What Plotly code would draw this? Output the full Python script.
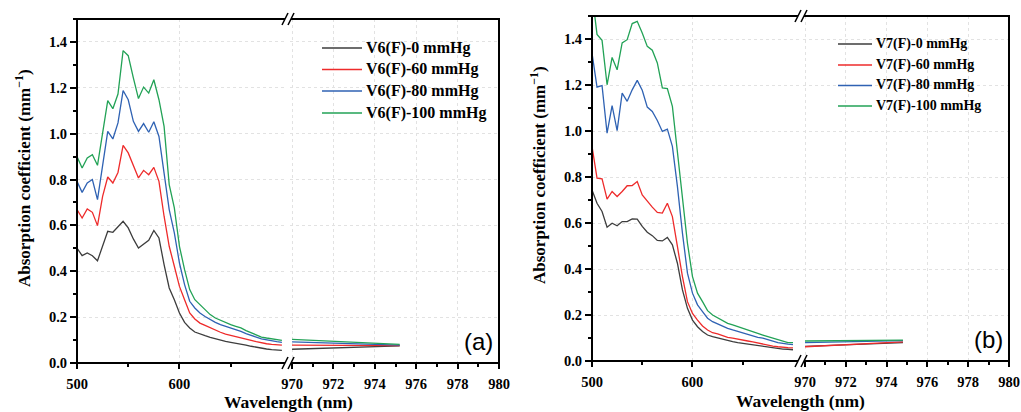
import plotly.graph_objects as go

W, H = 1021, 412

# --- data ---
wavelength = [500, 505, 510, 515, 520, 525, 530, 535, 540, 545, 550, 555, 560, 565, 570,
              575, 580, 585, 590, 595, 600, 605, 610, 615, 620, 625, 630, 635, 640, 645,
              650, 655, 660, 665, 670, 675, 680, 685, 690, 695, 700]
nir_a = [970, 975.2]
nir_b = [970, 974.8]

labels_a = ['V6(F)-0 mmHg', 'V6(F)-60 mmHg', 'V6(F)-80 mmHg', 'V6(F)-100 mmHg']
labels_b = ['V7(F)-0 mmHg', 'V7(F)-60 mmHg', 'V7(F)-80 mmHg', 'V7(F)-100 mmHg']

v6_0 = [0.501, 0.468, 0.48, 0.468, 0.446, 0.509, 0.574, 0.57, 0.593, 0.618, 0.589, 0.541, 0.501,
        0.52, 0.535, 0.578, 0.545, 0.429, 0.327, 0.276, 0.218, 0.177, 0.153, 0.135, 0.126, 0.119,
        0.112, 0.105, 0.099, 0.094, 0.09, 0.087, 0.084, 0.078, 0.073, 0.068, 0.064, 0.061, 0.058,
        0.057, 0.055]
v6_60 = [0.669, 0.632, 0.672, 0.657, 0.599, 0.727, 0.811, 0.785, 0.831, 0.949, 0.916, 0.858, 0.807,
         0.84, 0.821, 0.853, 0.792, 0.64, 0.509, 0.422, 0.334, 0.276, 0.218, 0.192, 0.174, 0.164,
         0.153, 0.142, 0.134, 0.126, 0.121, 0.116, 0.112, 0.105, 0.099, 0.093, 0.087, 0.084, 0.081,
         0.08, 0.078]
v6_80 = [0.792, 0.744, 0.785, 0.80, 0.712, 0.872, 1.01, 0.977, 1.047, 1.188, 1.148, 1.054, 1.01,
         1.044, 1.006, 1.052, 0.988, 0.828, 0.669, 0.567, 0.436, 0.342, 0.269, 0.24, 0.218, 0.203,
         0.189, 0.177, 0.167, 0.16, 0.153, 0.145, 0.138, 0.128, 0.119, 0.113, 0.105, 0.10, 0.096,
         0.093, 0.09]
v6_100 = [0.90, 0.85, 0.894, 0.908, 0.862, 1.003, 1.144, 1.109, 1.173, 1.362, 1.34, 1.243, 1.153,
          1.203, 1.177, 1.235, 1.148, 1.032, 0.778, 0.676, 0.509, 0.407, 0.32, 0.276, 0.254, 0.233,
          0.211, 0.196, 0.186, 0.177, 0.167, 0.16, 0.153, 0.141, 0.131, 0.124, 0.113, 0.109, 0.105,
          0.102, 0.099]
v6_nir = [[0.060, 0.075], [0.078, 0.076], [0.092, 0.078], [0.103, 0.081]]

v7_0 = [0.744, 0.686, 0.65, 0.582, 0.599, 0.588, 0.606, 0.606, 0.618, 0.617, 0.585, 0.56, 0.545,
        0.524, 0.522, 0.537, 0.505, 0.425, 0.309, 0.229, 0.178, 0.149, 0.128, 0.113, 0.106, 0.10,
        0.094, 0.088, 0.084, 0.08, 0.077, 0.074, 0.07, 0.067, 0.062, 0.059, 0.057, 0.054, 0.052,
        0.051, 0.049]
v7_60 = [0.933, 0.795, 0.792, 0.704, 0.737, 0.715, 0.737, 0.762, 0.763, 0.78, 0.722, 0.693, 0.669,
         0.646, 0.643, 0.686, 0.628, 0.498, 0.367, 0.258, 0.207, 0.178, 0.152, 0.135, 0.123, 0.118,
         0.11, 0.103, 0.099, 0.094, 0.091, 0.087, 0.083, 0.078, 0.074, 0.07, 0.065, 0.062, 0.059,
         0.058, 0.057]
v7_80 = [1.339, 1.191, 1.197, 0.991, 1.11, 1.002, 1.165, 1.129, 1.179, 1.22, 1.177, 1.104, 1.085,
         1.046, 0.998, 1.008, 0.933, 0.759, 0.556, 0.382, 0.295, 0.244, 0.215, 0.186, 0.171, 0.161,
         0.149, 0.142, 0.135, 0.128, 0.123, 0.116, 0.11, 0.103, 0.099, 0.091, 0.086, 0.08, 0.075,
         0.073, 0.071]
v7_100 = [1.60, 1.42, 1.394, 1.201, 1.32, 1.266, 1.383, 1.397, 1.467, 1.477, 1.426, 1.368, 1.351,
          1.296, 1.187, 1.184, 1.107, 0.918, 0.715, 0.512, 0.367, 0.295, 0.258, 0.219, 0.20, 0.189,
          0.176, 0.164, 0.157, 0.149, 0.142, 0.135, 0.128, 0.12, 0.113, 0.106, 0.099, 0.091, 0.084,
          0.08, 0.08]
v7_nir = [[0.064, 0.080], [0.062, 0.083], [0.080, 0.089], [0.087, 0.091]]

colors = ['#3d3d3d', '#ee2b2b', '#2f62b3', '#22a256']

SERIF = 'Liberation Serif'
SANS = 'Liberation Sans'


def px(x):
    return x / W


def py(y):
    return 1 - y / H


fig = go.Figure()

# panel (a): x / x2 on y ; panel (b): x3 / x4 on y2
for i, ser in enumerate([v6_0, v6_60, v6_80, v6_100]):
    fig.add_trace(go.Scatter(x=wavelength, y=ser, mode='lines', name=labels_a[i],
                             line=dict(color=colors[i], width=1.3), xaxis='x', yaxis='y',
                             showlegend=False))
    fig.add_trace(go.Scatter(x=nir_a, y=v6_nir[i], mode='lines', line=dict(color=colors[i], width=1.3),
                             xaxis='x2', yaxis='y', showlegend=False))
for i, ser in enumerate([v7_0, v7_60, v7_80, v7_100]):
    fig.add_trace(go.Scatter(x=wavelength, y=ser, mode='lines', name=labels_b[i],
                             line=dict(color=colors[i], width=1.3), xaxis='x3', yaxis='y2',
                             showlegend=False))
    fig.add_trace(go.Scatter(x=nir_b, y=v7_nir[i], mode='lines', line=dict(color=colors[i], width=1.3),
                             xaxis='x4', yaxis='y2', showlegend=False))


# panel boxes, cut where the wavelength axis is broken; drawn in a hidden full-page pixel space
def frame_path(L, R, T, B, bx):
    xs = [L - 1, bx - 3, None, bx + 3, R + 1, None, L - 1, bx - 3, None, bx + 3, R + 1, None,
          L, L, None, R, R, None]
    ys = [T, T, None, T, T, None, B, B, None, B, B, None, T, B, None, T, B, None]
    return xs, ys


fx, fy = [], []
for box in ((77, 499, 19, 363, 288), (592, 1009, 16, 361, 801)):
    xs, ys = frame_path(*box)
    fx += xs
    fy += ys
fig.add_trace(go.Scatter(x=fx, y=fy, mode='lines', line=dict(color='black', width=2),
                         xaxis='x5', yaxis='y5', showlegend=False, hoverinfo='skip'))

tickfont = dict(family=SERIF, size=14.5, color='black', weight='bold')
common = dict(showline=False, zeroline=False, ticks='outside', tickcolor='black', tickwidth=1.5,
              tickfont=tickfont, showgrid=True, gridcolor='#e2e2e2', griddash='dot', gridwidth=1,
              automargin=False)

xl = dict(common, tickvals=[500, 600], ticklen=5, ticklabelstandoff=3,
          minor=dict(tickvals=[550, 650], ticks='outside', ticklen=3, tickcolor='black', showgrid=False))
xr = dict(common, range=[969.9, 980], tickvals=[970, 972, 974, 976, 978, 980], ticklen=5,
          ticklabelstandoff=3,
          minor=dict(dtick=1, ticks='outside', ticklen=3, tickcolor='black', showgrid=False))
yy = dict(common, range=[0, 1.5], dtick=0.2, tick0=0, tickformat='.1f', ticklen=6,
          minor=dict(dtick=0.1, ticks='outside', ticklen=3, tickcolor='black', showgrid=False))

fig.update_layout(
    xaxis=dict(xl, domain=[px(77), px(286)], range=[500, 704], anchor='y'),
    xaxis2=dict(xr, domain=[px(290), px(499)], anchor='y'),
    xaxis3=dict(xl, domain=[px(592), px(799)], range=[500, 706], anchor='y2'),
    xaxis4=dict(xr, domain=[px(803), px(1009)], anchor='y2'),
    yaxis=dict(yy, domain=[py(363), py(19)], anchor='x'),
    yaxis2=dict(yy, domain=[py(361), py(16)], anchor='x3'),
    xaxis5=dict(domain=[0, 1], range=[0, W], visible=False, anchor='y5', fixedrange=True),
    yaxis5=dict(domain=[0, 1], range=[H, 0], visible=False, anchor='x5', fixedrange=True),
)

shapes = []
annotations = []


def seg(x0, y0, x1, y1, width, color='#000000'):
    shapes.append(dict(type='line', xref='paper', yref='paper', x0=px(x0), y0=py(y0),
                       x1=px(x1), y1=py(y1), line=dict(color=color, width=width)))


# the "//" marks of the broken wavelength axis
for bx, T, B in ((288, 19, 363), (801, 16, 361)):
    for y in (T, B):
        for cx in (bx - 3, bx + 3):
            seg(cx - 3, y + 6, cx + 3, y - 6, 1.5)


def legend(x0, x1, tx, rows, labels, size):
    for i, lab in enumerate(labels):
        seg(x0, rows[i], x1, rows[i], 1.5, colors[i])
        annotations.append(dict(text=lab, xref='paper', yref='paper', x=px(tx), y=py(rows[i]),
                                xanchor='left', yanchor='middle', showarrow=False,
                                font=dict(family=SERIF, size=size, color='black', weight='bold')))


legend(322, 362, 364, [48, 69.5, 91, 113], labels_a, 16)
legend(838, 872, 874, [44, 65, 85.5, 106], labels_b, 14)

ytitle = 'Absorption coefficient (mm<sup>\u22121</sup>)'
for x, y in ((23, 178), (538, 175)):
    annotations.append(dict(text=ytitle, xref='paper', yref='paper', x=px(x), y=py(y), textangle=-90,
                            xanchor='center', yanchor='middle', showarrow=False,
                            font=dict(family=SERIF, size=17, color='black', weight='bold')))
for x, y in ((288, 402), (800, 401)):
    annotations.append(dict(text='Wavelength (nm)', xref='paper', yref='paper', x=px(x), y=py(y),
                            xanchor='center', yanchor='middle', showarrow=False,
                            font=dict(family=SERIF, size=17.5, color='black', weight='bold')))
for t, x, y in (('(a)', 478, 341), ('(b)', 988, 339)):
    annotations.append(dict(text=t, xref='paper', yref='paper', x=px(x), y=py(y),
                            xanchor='center', yanchor='middle', showarrow=False,
                            font=dict(family=SANS, size=24, color='black')))

# transparent plot areas so the full-page frame layer does not hide the panels under it
fig.update_layout(width=W, height=H, autosize=False, margin=dict(l=0, r=0, t=0, b=0, pad=0),
                  template='none', paper_bgcolor='white', plot_bgcolor='rgba(0,0,0,0)',
                  shapes=shapes, annotations=annotations, showlegend=False)

# the page body has an 8px default margin; drop it so the figure fills the window
fig.write_html("out.html", config={'displayModeBar': False},
               post_script="document.body.style.margin='0';document.body.style.overflow='hidden';")
